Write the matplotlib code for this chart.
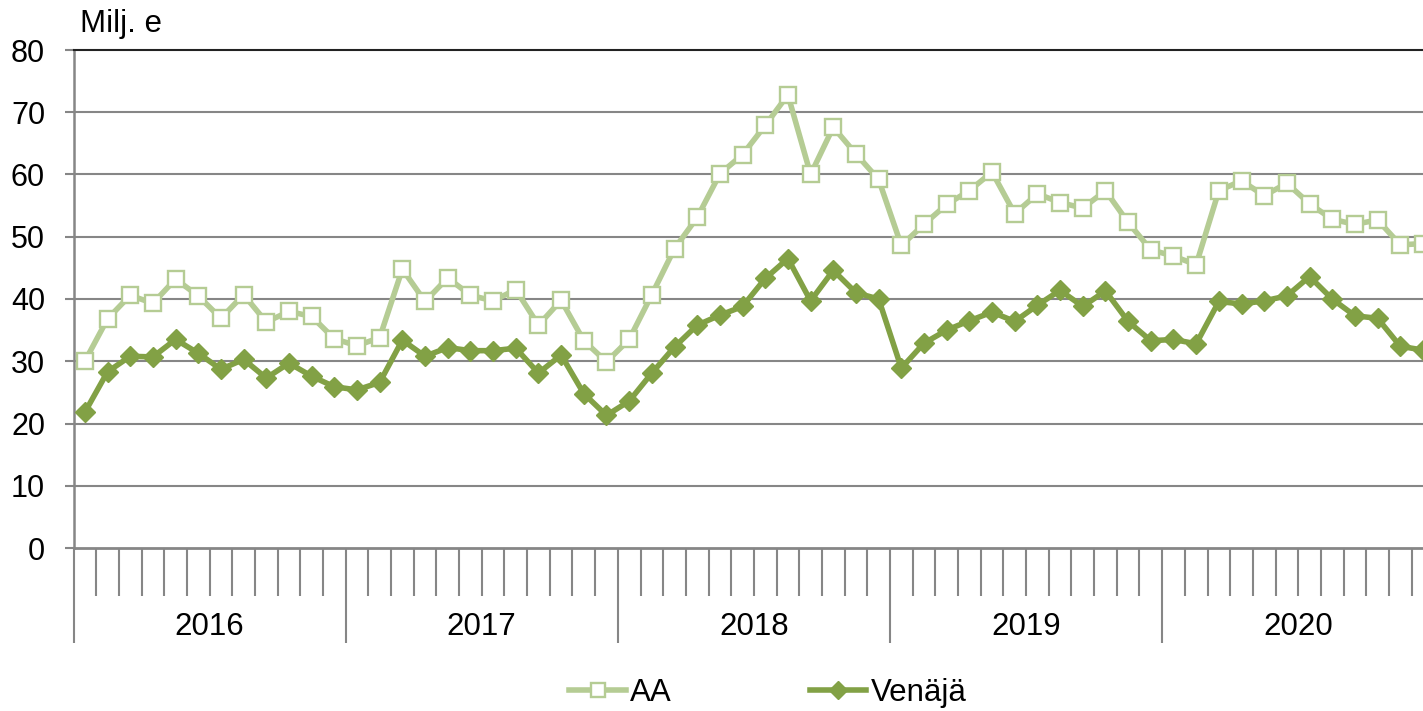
import matplotlib
matplotlib.use("Agg")
import matplotlib.pyplot as plt
from matplotlib.lines import Line2D
from matplotlib.transforms import blended_transform_factory

years = ["2016", "2017", "2018", "2019", "2020"]
months_per_year = 12
unit_label = "Milj. e"
series_names = ["AA", "Venäjä"]

aa = [
    30.0, 36.8, 40.6, 39.3, 43.2, 40.5, 36.9, 40.7, 36.3, 38.0, 37.2, 33.6,   # 2016
    32.5, 33.8, 44.8, 39.6, 43.4, 40.6, 39.7, 41.5, 35.8, 39.8, 33.3, 29.9,   # 2017
    33.5, 40.7, 48.1, 53.1, 60.1, 63.2, 67.9, 72.8, 60.0, 67.6, 63.3, 59.2,   # 2018
    48.6, 52.0, 55.2, 57.4, 60.4, 53.7, 56.9, 55.5, 54.6, 57.4, 52.3, 47.9,   # 2019
    46.9, 45.5, 57.4, 59.0, 56.6, 58.6, 55.3, 52.8, 52.0, 52.7, 48.7, 48.9,   # 2020
]
venaja = [
    21.8, 28.3, 30.8, 30.7, 33.5, 31.3, 28.7, 30.3, 27.3, 29.7, 27.6, 25.9,   # 2016
    25.4, 26.6, 33.4, 30.8, 32.2, 31.7, 31.7, 32.1, 28.1, 31.0, 24.8, 21.3,   # 2017
    23.6, 28.1, 32.3, 35.8, 37.4, 38.8, 43.3, 46.5, 39.7, 44.6, 41.0, 40.0,   # 2018
    28.9, 32.9, 35.0, 36.5, 37.9, 36.4, 39.0, 41.4, 38.8, 41.3, 36.4, 33.3,   # 2019
    33.5, 32.8, 39.6, 39.2, 39.7, 40.5, 43.6, 40.0, 37.3, 36.9, 32.4, 31.8,   # 2020
]
y_ticks = [0, 10, 20, 30, 40, 50, 60, 70, 80]

plt.rcParams['font.family'] = ['Liberation Sans', 'DejaVu Sans']

AA_COLOR = '#B5CC94'
RU_COLOR = '#82A145'
GRID = '#868686'

W, H = 1423, 711
fig = plt.figure(figsize=(W / 100, H / 100), dpi=100)
px_month = 22.68
n = len(aa)
left_px, top_px, bot_px = 73.5, 50, 548
ax = fig.add_axes([left_px / W, (H - bot_px) / H, n * px_month / W, (bot_px - top_px) / H])

x = [i + 0.5 for i in range(n)]
ax.plot(x, aa, color=AA_COLOR, lw=4.0, marker='s', ms=11.5, mfc='white',
        mec=AA_COLOR, mew=1.7, zorder=3, clip_on=False)
ax.plot(x, venaja, color=RU_COLOR, lw=4.0, marker='D', ms=10, mfc=RU_COLOR,
        mec=RU_COLOR, mew=1, zorder=4, clip_on=False)

ax.set_xlim(0, n)
ax.set_ylim(0, 80)
ax.set_yticks(y_ticks)
ax.set_yticklabels([str(v) for v in y_ticks])
for v in y_ticks[1:-1]:
    ax.axhline(v, color=GRID, lw=1.5, zorder=1)

ax.spines['right'].set_visible(False)
ax.spines['top'].set_color('#222222')
ax.spines['top'].set_linewidth(1.5)
ax.spines['left'].set_color(GRID)
ax.spines['left'].set_linewidth(1.8)
ax.spines['bottom'].set_color(GRID)
ax.spines['bottom'].set_linewidth(2.0)

ax.tick_params(axis='y', which='both', length=6.5, width=1.5, color=GRID,
               labelsize=22, pad=14)

# x ticks: month boundaries (minor) and year boundaries (major)
year_b = [k * months_per_year for k in range(len(years) + 1)]
month_b = [i for i in range(n + 1) if i % months_per_year != 0]
ax.set_xticks(year_b)
ax.set_xticks(month_b, minor=True)
ax.tick_params(axis='x', which='major', length=68.5, width=1.5, color=GRID,
               labelbottom=False, direction='out')
ax.tick_params(axis='x', which='minor', length=34.5, width=1.5, color=GRID,
               labelbottom=False, direction='out')

tr = blended_transform_factory(ax.transData, ax.transAxes)
for k, yr in enumerate(years):
    ax.text(k * months_per_year + months_per_year / 2, -(627 - bot_px) / (bot_px - top_px),
            yr, transform=tr, ha='center', va='center', fontsize=22.5)

fig.text(80 / W, 1 - 24 / H, unit_label, ha='left', va='center', fontsize=22.5)

handles = [
    Line2D([], [], color=AA_COLOR, lw=4.0, marker='s', ms=10.5, mfc='white', mec=AA_COLOR, mew=1.7),
    Line2D([], [], color=RU_COLOR, lw=4.0, marker='D', ms=9, mfc=RU_COLOR, mec=RU_COLOR),
]
fig.legend(handles, series_names, loc='center', bbox_to_anchor=(768 / W, 1 - 693 / H),
           ncol=2, frameon=False, fontsize=22.5, handlelength=1.8, handletextpad=0.15,
           columnspacing=4.4, borderpad=0, borderaxespad=0)

fig.savefig('out.png', dpi=100)
